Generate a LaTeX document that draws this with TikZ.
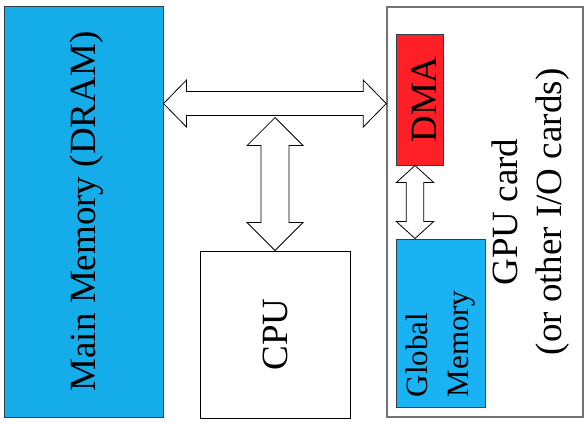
\documentclass[tikz,border=0pt]{standalone}
\usepackage{fontspec}
\setmainfont{Liberation Serif}
\usetikzlibrary{calc,positioning}
\definecolor{DramBlue}{HTML}{15ADE9}
\definecolor{GlobBlue}{HTML}{19B3F3}
\definecolor{DmaRed}{HTML}{FF1F26}
\definecolor{Edge}{HTML}{2B3F4C}
\newcommand\bigtext{\fontsize{37}{44}\selectfont}
% block arrows: #1,#2 tips, #3 shaft half width, #4 head half width, #5 head length
\newcommand\hbus[5]{\draw[busarrow] (#1)--($(#1)+(#5,-#4)$)--($(#1)+(#5,-#3)$)--($(#2)+(-#5,-#3)$)--($(#2)+(-#5,-#4)$)--(#2)
  --($(#2)+(-#5,#4)$)--($(#2)+(-#5,#3)$)--($(#1)+(#5,#3)$)--($(#1)+(#5,#4)$)--cycle;}
\newcommand\vbus[5]{\draw[busarrow] (#1)--($(#1)+(#4,#5)$)--($(#1)+(#3,#5)$)--($(#2)+(#3,-#5)$)--($(#2)+(#4,-#5)$)--(#2)
  --($(#2)+(-#4,-#5)$)--($(#2)+(-#3,-#5)$)--($(#1)+(-#3,#5)$)--($(#1)+(-#4,#5)$)--cycle;}
\begin{document}
\begin{tikzpicture}[x=1pt,y=-1pt, every node/.style={inner sep=0pt,font=\bigtext,align=center},
box/.style={draw=Edge,line width=1pt},
busarrow/.style={draw=black,fill=white,line width=0.8pt}]
\useasboundingbox (0,0) rectangle (588,423);
\node[box,fill=DramBlue,minimum width=159pt,minimum height=411pt] (dram) at (83.5,211.5) {\rotatebox{90}{Main Memory (DRAM)}\hspace*{-6pt}};
\node[box,draw=black!55,line width=1.5pt,minimum width=196pt,minimum height=410pt] (gpu) at (485,212) {};
\node[rotate=90] (gputext) at (531,212) {GPU card\\(or other I/O cards)};
\node[box,fill=DmaRed,minimum width=47pt,minimum height=131pt] (dma) at (419.5,99.5) {\rotatebox{90}{DMA}\hspace*{-9pt}};
\node[box,fill=GlobBlue,minimum width=89pt,minimum height=168pt] (gmem) at (440.5,323) {};
\node[rotate=90,anchor=west,align=left,font=\fontsize{31}{41}\selectfont] (gmemtext) at ([yshift=10pt]gmem.south) {Global\\Memory};
\node[box,draw=black,minimum width=150pt,minimum height=167pt] (cpu) at (275,334.5) {\rotatebox{90}{CPU}};
\coordinate (busL) at ($(dram.north east)!0.238!(dram.south east)$);
\coordinate (busR) at (busL -| gpu.west);
\hbus{busL}{busR}{12}{23.5}{23}
\coordinate (cpuTop) at ($(cpu.north |- busL)+(0,14)$);
\vbus{cpuTop}{cpu.north}{14}{28}{28}
\coordinate (dmaLow) at ([xshift=-4.5pt]dma.south);
\coordinate (gmemTop) at (dmaLow |- gmem.north);
\vbus{dmaLow}{gmemTop}{8.7}{18.7}{17}
\end{tikzpicture}
\end{document}
